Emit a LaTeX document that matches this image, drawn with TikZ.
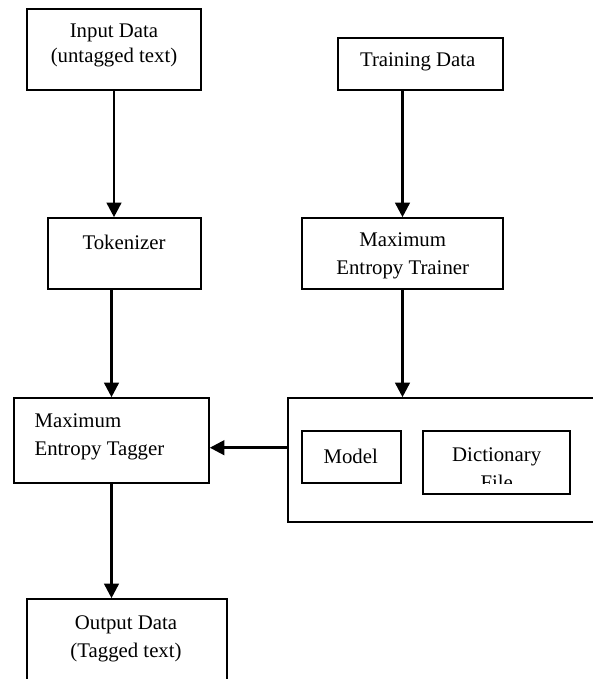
\documentclass[tikz,border=0pt]{standalone}
\usepackage{fontspec}
\setmainfont{Liberation Serif}
\usetikzlibrary{arrows.meta}

\tikzset{
  box/.style={draw, rectangle, line width=1.2pt, inner sep=0pt},
  txt/.style={font=\fontsize{15.6}{21}\selectfont, align=center, inner sep=0pt},
  arr/.style={-{Triangle[length=11pt,width=11pt]}, line width=2pt}
}

\begin{document}
\begin{tikzpicture}[x=0.75pt,y=-0.75pt]

% Page
\clip (0,0) rectangle (593,679);

%%%%%%%%%%%%%%%%%%%%%%%%%%%%%%%%%%%%%%%%%%%%%%%%%%
% Left column
%%%%%%%%%%%%%%%%%%%%%%%%%%%%%%%%%%%%%%%%%%%%%%%%%%

% Boxes
\node[box, minimum width=130.5pt, minimum height=60.75pt] (input) at (114,49.5) {};
\node[box, minimum width=114.75pt, minimum height=53.25pt] (token) at (124.5,253.5) {};
\node[box, minimum width=146.25pt, minimum height=63.75pt] (tagger) at (111.5,440.5) {};
\node[box, minimum width=150pt, minimum height=77.25pt] (output) at (127,650.5) {};

% Labels
\node[txt] (inputlbl) at (114,45.8) {Input Data\\[-2.25pt](untagged text)};
\node[txt] (tokenlbl) at (124,242) {Tokenizer};
\node[txt, align=left, anchor=west] (taggerlbl) at (34.3,436.7) {Maximum\\Entropy Tagger};
\node[txt] (outputlbl) at (126,638.5) {Output Data\\(Tagged text)};

%%%%%%%%%%%%%%%%%%%%%%%%%%%%%%%%%%%%%%%%%%%%%%%%%%
% Right column
%%%%%%%%%%%%%%%%%%%%%%%%%%%%%%%%%%%%%%%%%%%%%%%%%%

% Boxes
\node[box, minimum width=123.75pt, minimum height=39pt] (train) at (420.5,64) {};
\node[box, minimum width=150.75pt, minimum height=53.25pt] (trainer) at (402.5,253.5) {};
\node[box, minimum width=243pt, minimum height=93pt] (store) at (450,460) {};
\node[box, minimum width=74.25pt, minimum height=39pt] (model) at (351.5,457) {};
\node[box, minimum width=110.25pt, minimum height=47.25pt] (dict) at (496.5,462.5) {};

% Labels
\node[txt] (trainlbl) at (417.7,62) {Training Data};
\begin{scope}
\clip (302,218) rectangle (503,278);
\node[txt] (trainerlbl) at (402.7,256) {Maximum\\Entropy Trainer};
\end{scope}
\node[txt] (modellbl) at (350.7,456) {Model};
\begin{scope}
\clip (423,431) rectangle (570,483.5);
\node[txt] (dictlbl) at (496.7,469) {Dictionary\\File};
\end{scope}

%%%%%%%%%%%%%%%%%%%%%%%%%%%%%%%%%%%%%%%%%%%%%%%%%%
% Arrows
%%%%%%%%%%%%%%%%%%%%%%%%%%%%%%%%%%%%%%%%%%%%%%%%%%

\draw[arr] (input.south) -- (input.south |- token.north);
\draw[arr] (tagger.north |- token.south) -- (tagger.north);
\draw[arr] (tagger.south) -- (tagger.south |- output.north);
\draw[arr] (trainer.north |- train.south) -- (trainer.north);
\draw[arr] (trainer.south) -- (trainer.south |- store.north);
\coordinate (link) at ([yshift=-5.4pt]tagger.east);
\draw[arr] (store.west |- link) -- (link);

\end{tikzpicture}
\end{document}
